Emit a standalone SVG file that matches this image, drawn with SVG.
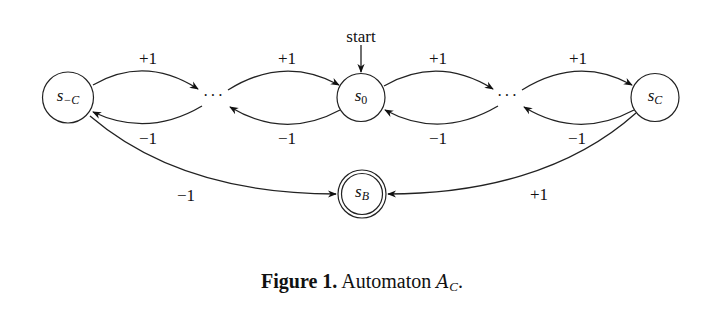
<svg xmlns="http://www.w3.org/2000/svg" width="720" height="318" viewBox="0 0 720 318">
<defs>
<marker id="ah" viewBox="0 0 10 10" refX="9" refY="5" markerWidth="9" markerHeight="9" markerUnits="userSpaceOnUse" orient="auto">
<path d="M0,1 L10,5 L0,9 L3,5 Z" fill="#111"/>
</marker>
</defs>
<style>
.st{fill:#fff;stroke:#222;stroke-width:1.2}
.ed{fill:none;stroke:#222;stroke-width:1.3;marker-end:url(#ah)}
.lb{font-family:"Liberation Serif",serif;font-size:17px;fill:#111;text-anchor:middle}
.nm{font-family:"Liberation Serif",serif;font-style:italic;font-size:17px;fill:#111;text-anchor:middle}
.sub{font-size:12px}
.dots{font-family:"Liberation Serif",serif;font-size:16px;fill:#111;text-anchor:middle;letter-spacing:2px}
</style>
<rect width="720" height="318" fill="#fff"/>
<g id="connectors">
<path class="ed" d="M93 85 Q145 55 198 89"/>
<path class="ed" d="M202 106 Q148 138 93 112"/>
<path class="ed" d="M228 90 Q284 55 339 85"/>
<path class="ed" d="M340 110 Q285 140 230 107"/>
<path class="ed" d="M384 86 Q438 55 493 89"/>
<path class="ed" d="M498 106 Q440 140 385 110"/>
<path class="ed" d="M522 90 Q578 55 632 85"/>
<path class="ed" d="M634 110 Q578 140 524 107"/>
<path class="ed" d="M361 45 L361 72"/>
<path class="ed" d="M90 116 C160 176 250 194 336 194"/>
<path class="ed" d="M636 113 C570 172 480 194 388 194"/>
<text class="lb" x="148" y="64">+1</text>
<text class="lb" x="148" y="144">−1</text>
<text class="lb" x="287" y="64">+1</text>
<text class="lb" x="287" y="144">−1</text>
<text class="lb" x="438" y="64">+1</text>
<text class="lb" x="438" y="144">−1</text>
<text class="lb" x="578" y="64">+1</text>
<text class="lb" x="577" y="144">−1</text>
<text class="lb" x="186" y="201">−1</text>
<text class="lb" x="539" y="200">+1</text>
<text class="lb" x="361" y="42" font-size="16">start</text>
</g>
<g id="s_minusC">
<circle class="st" cx="68" cy="97.5" r="25.5"/>
<text class="nm" x="68" y="101">s<tspan class="sub" dy="3">−C</tspan></text>
</g>
<g id="dots_left">
<text class="dots" x="214" y="101">···</text>
</g>
<g id="s0">
<circle class="st" cx="361" cy="97.5" r="24"/>
<text class="nm" x="361" y="101">s<tspan class="sub" dy="3" font-style="normal">0</tspan></text>
</g>
<g id="dots_right">
<text class="dots" x="508" y="101">···</text>
</g>
<g id="sC">
<circle class="st" cx="655" cy="97.5" r="24"/>
<text class="nm" x="655" y="101">s<tspan class="sub" dy="3">C</tspan></text>
</g>
<g id="sB">
<circle class="st" cx="362" cy="194" r="24"/>
<circle class="st" cx="362" cy="194" r="20.5"/>
<text class="nm" x="362" y="197">s<tspan class="sub" dy="3">B</tspan></text>
</g>
<g id="caption">
<text x="362" y="288" font-family="'Liberation Serif',serif" font-size="20" fill="#111" text-anchor="middle"><tspan font-weight="bold">Figure 1.</tspan> Automaton <tspan font-style="italic" font-family="'DejaVu Serif',serif" font-size="18">A</tspan><tspan font-style="italic" font-size="13" dy="3">C</tspan><tspan dy="-3">.</tspan></text>
</g>
</svg>
